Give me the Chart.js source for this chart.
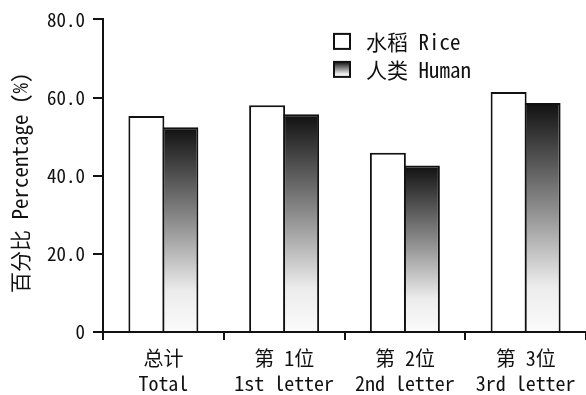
<!DOCTYPE html>
<html>
<head>
<meta charset="utf-8">
<script src="https://cdn.jsdelivr.net/npm/chart.js@4"></script>
<style>
html,body{margin:0;padding:0;background:#fff;}
#wrap{width:586px;height:395px;}
</style>
</head>
<body>
<div id="wrap"><canvas id="c" width="586" height="395"></canvas></div>
<script>
const categories = [['总计','Total'],['第 1位','1st letter'],['第 2位','2nd letter'],['第 3位','3rd letter']];
const seriesNames = ['水稻 Rice','人类 Human'];
const riceValues = [55.3, 58.0, 45.9, 61.4];
const humanValues = [52.4, 55.7, 42.6, 58.6];
const yTicks = [0, 20, 40, 60, 80];
const yTitle = '百分比 Percentage (%)';

const FONT = '"Noto Sans Mono CJK SC", "Liberation Mono", "Noto Sans CJK SC", monospace';

function humanGradient(ctx2d, top, bottom){
  const g = ctx2d.createLinearGradient(0, top, 0, bottom);
  g.addColorStop(0, '#111111');
  g.addColorStop(0.45, '#8a8a8a');
  g.addColorStop(0.8, '#ececec');
  g.addColorStop(1, '#fbfbfb');
  return g;
}

const extrasPlugin = {
  id: 'extras',
  afterDraw(chart){
    const c = chart.ctx;
    const area = chart.chartArea;
    // legend
    c.save();
    c.font = '21px ' + FONT;
    c.textBaseline = 'middle';
    const bx = area.left + 231, rows = [area.top + 22, area.top + 50];
    chart.data.datasets.forEach((ds, i) => {
      const cy = rows[i];
      const top = cy - 7.5, h = 15, w = 16;
      c.fillStyle = i === 0 ? '#ffffff' : humanGradient(c, top, top + h);
      c.fillRect(bx, top, w, h);
      c.lineWidth = 2;
      c.strokeStyle = '#111';
      c.strokeRect(bx, top, w, h);
      c.fillStyle = '#111';
      c.textAlign = 'left';
      c.fillText(ds.label, bx + 32, cy + 1);
    });
    c.restore();
    // y axis title
    c.save();
    c.font = '21px ' + FONT;
    c.fillStyle = '#111';
    c.textAlign = 'center';
    c.textBaseline = 'middle';
    c.translate(20, (area.top + area.bottom) / 2 + 7);
    c.rotate(-Math.PI / 2);
    c.fillText(yTitle, 0, 0);
    c.restore();
  }
};

new Chart(document.getElementById('c'), {
  type: 'bar',
  data: {
    labels: categories,
    datasets: [
      {
        label: seriesNames[0],
        data: riceValues,
        backgroundColor: '#ffffff',
        borderColor: '#111111',
        borderWidth: 2,
        borderSkipped: 'start'
      },
      {
        label: seriesNames[1],
        data: humanValues,
        backgroundColor: (ctx) => {
          const chart = ctx.chart;
          if (!chart.chartArea || ctx.type !== 'data') return '#777';
          const y = chart.scales.y;
          return humanGradient(chart.ctx, y.getPixelForValue(ctx.raw), y.getPixelForValue(0));
        },
        borderColor: '#111111',
        borderWidth: 2,
        borderSkipped: 'start'
      }
    ]
  },
  options: {
    responsive: false,
    animation: false,
    devicePixelRatio: 1,
    layout: { padding: { top: 17, left: 0, right: 0, bottom: 0 } },
    categoryPercentage: 0.563,
    barPercentage: 1.0588,
    plugins: { legend: { display: false }, tooltip: { enabled: false } },
    scales: {
      x: {
        offset: true,
        grid: { display: true, drawOnChartArea: false, drawTicks: true, tickLength: 8, color: '#111', lineWidth: 2, offset: true },
        border: { display: true, color: '#111', width: 2 },
        ticks: { color: '#111', font: { family: FONT, size: 20, lineHeight: 1.25 }, padding: 6 },
        afterFit: (s) => { s.height = 63; }
      },
      y: {
        min: 0, max: 80,
        afterBuildTicks: (s) => { s.ticks = yTicks.map(v => ({ value: v })); },
        grid: { display: true, drawOnChartArea: false, drawTicks: true, tickLength: 10, color: '#111', lineWidth: 2 },
        border: { display: true, color: '#111', width: 2 },
        ticks: { color: '#111', font: { family: FONT, size: 19 }, padding: 8,
          callback: (v) => v === 0 ? '0' : Number(v).toFixed(1) },
        afterFit: (s) => { s.width = 103; }
      }
    }
  },
  plugins: [extrasPlugin]
});
</script>
</body>
</html>
